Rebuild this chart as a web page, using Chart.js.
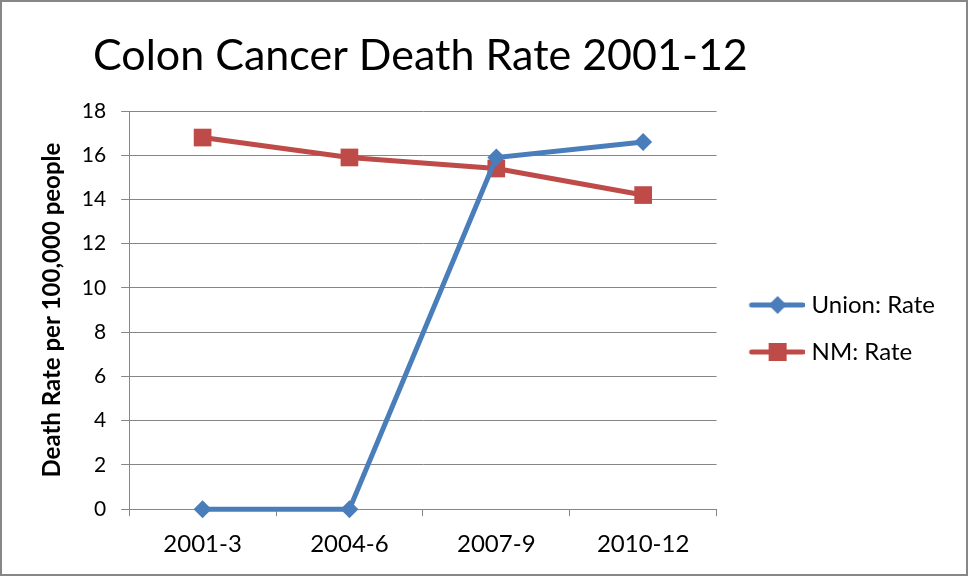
<!DOCTYPE html>
<html>
<head>
<meta charset="utf-8">
<script src="https://cdn.jsdelivr.net/npm/chart.js@4"></script>
<style>
html, body { margin: 0; padding: 0; background: #fff; }
</style>
</head>
<body>
<canvas id="rateChart" width="969" height="577"></canvas>
<script>
const categories = ["2001-3", "2004-6", "2007-9", "2010-12"];
const unionRate = [0, 0, 15.9, 16.6];
const nmRate = [16.8, 15.9, 15.4, 14.2];
const yMin = 0, yMax = 18, yStep = 2;

const chartTitle = "Colon Cancer Death Rate 2001-12";
const yTitle = "Death Rate per 100,000 people";

const blue = "#4a7ebb";
const red = "#be4b48";
const gridGray = "#868686";
const fontFamily = "Lato, 'Open Sans', sans-serif";

// line + marker swatch for the legend
function legendIcon(color, marker) {
    const c = document.createElement("canvas");
    c.width = 70;
    c.height = 24;
    const g = c.getContext("2d");
    g.strokeStyle = color;
    g.fillStyle = color;
    g.lineWidth = 5;
    g.lineCap = "round";
    g.beginPath();
    g.moveTo(17, 12);
    g.lineTo(68, 12);
    g.stroke();
    if (marker === "diamond") {
        g.beginPath();
        g.moveTo(43, 3);
        g.lineTo(52, 12);
        g.lineTo(43, 21);
        g.lineTo(34, 12);
        g.closePath();
        g.fill();
    } else {
        g.fillRect(34, 3, 18, 18);
    }
    return c;
}

const chartFrame = {
    id: "chartFrame",
    beforeDraw(chart) {
        const g = chart.ctx;
        g.save();
        g.fillStyle = "#fff";
        g.fillRect(0, 0, chart.width, chart.height);
        g.restore();
    },
    afterDraw(chart) {
        const g = chart.ctx;
        g.save();
        g.strokeStyle = "#878787";
        g.lineWidth = 2;
        g.strokeRect(1, 1, chart.width - 3, chart.height - 3);
        g.fillStyle = "#000";
        g.font = "43px " + fontFamily;
        g.textBaseline = "alphabetic";
        g.fillText(chartTitle, 93, 70);
        g.restore();
    }
};

const ctx = document.getElementById("rateChart");

new Chart(ctx, {
    type: "line",
    data: {
        labels: categories,
        datasets: [
            {
                label: "Union: Rate",
                data: unionRate,
                borderColor: blue,
                backgroundColor: blue,
                borderWidth: 5,
                pointStyle: "rectRot",
                pointRadius: 9,
                pointBorderWidth: 0,
                tension: 0,
                clip: false,
                legendIcon: legendIcon(blue, "diamond")
            },
            {
                label: "NM: Rate",
                data: nmRate,
                borderColor: red,
                backgroundColor: red,
                borderWidth: 5,
                pointStyle: "rect",
                pointRadius: 12.5,
                pointBorderWidth: 0,
                tension: 0,
                clip: false,
                legendIcon: legendIcon(red, "square")
            }
        ]
    },
    options: {
        responsive: false,
        animation: false,
        layout: {
            padding: { top: 111, left: 29, right: 24, bottom: 4 }
        },
        plugins: {
            title: { display: false },
            tooltip: { enabled: false },
            legend: {
                position: "right",
                fullSize: false,
                title: {
                    display: true,
                    text: " ",
                    padding: 1,
                    font: { family: fontFamily, size: 29 }
                },
                labels: {
                    usePointStyle: true,
                    pointStyleWidth: 60,
                    padding: 23,
                    color: "#000",
                    font: { family: fontFamily, size: 24 },
                    generateLabels(chart) {
                        return chart.data.datasets.map((ds, i) => ({
                            text: ds.label,
                            pointStyle: ds.legendIcon,
                            fillStyle: ds.borderColor,
                            strokeStyle: ds.borderColor,
                            lineWidth: 0,
                            fontColor: "#000",
                            datasetIndex: i
                        }));
                    }
                }
            }
        },
        scales: {
            x: {
                offset: true,
                grid: {
                    offset: true,
                    drawOnChartArea: false,
                    drawTicks: true,
                    tickLength: 7,
                    color: gridGray
                },
                border: { color: gridGray },
                ticks: {
                    padding: 14,
                    color: "#000",
                    font: { family: fontFamily, size: 24 }
                }
            },
            y: {
                min: yMin,
                max: yMax,
                grid: {
                    color: gridGray,
                    tickLength: 8
                },
                border: { color: gridGray },
                ticks: {
                    stepSize: yStep,
                    padding: 15,
                    color: "#000",
                    font: { family: fontFamily, size: 21 }
                },
                title: {
                    display: true,
                    text: yTitle,
                    color: "#000",
                    padding: { top: 9, bottom: 0 },
                    font: { family: fontFamily, size: 24, weight: "bold" }
                }
            }
        }
    },
    plugins: [chartFrame]
});
</script>
</body>
</html>
